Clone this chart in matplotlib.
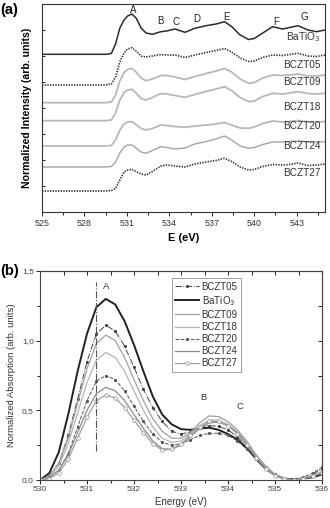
import matplotlib
matplotlib.use('Agg')
import matplotlib.pyplot as plt
from matplotlib.ticker import MultipleLocator, FuncFormatter

plt.rcParams['font.family'] = ['Liberation Sans', 'DejaVu Sans']

# ---- panel (a): O K-edge spectra, stacked (offsets in arbitrary units)
energy_a = [525.0, 529.5, 529.9, 530.2, 530.5, 530.8, 531.05, 531.35, 531.65, 532.0,
            532.35, 532.8, 533.4, 533.8, 534.4, 535.1, 535.8, 536.6, 537.3, 537.9,
            538.4, 539.0, 539.6, 540.0, 540.6, 541.3, 542.0, 542.5, 543.1, 543.8,
            544.4, 545.0]
a_batio3 = [157.7, 157.7, 158.5, 168, 184, 192, 196, 198, 194, 184,
            179, 177.7, 180.3, 181, 183, 179.7, 183.7, 186.3, 188, 190.3,
            185.5, 177, 172.5, 173.5, 179, 185.3, 183, 184.5, 186.3, 182,
            180.3, 182]
a_bczt05 = [127, 127, 128, 135, 150, 159, 163, 164.3, 161, 156,
            155, 156, 157.5, 157, 157, 154.5, 157, 159.5, 161.5, 163.5,
            160, 154, 150.5, 151, 154.5, 157, 156.5, 157.5, 158.7, 156,
            155.5, 157]
a_bczt09 = [109.3, 109.3, 110, 117, 131, 139.5, 142.5, 143.7, 140, 134,
            131.3, 133, 136.5, 136.5, 135, 132.5, 135.5, 138.5, 141, 143.5,
            140, 133, 128.7, 129.5, 134, 137, 136.5, 137, 138, 136,
            136, 137]
a_bczt18 = [91.3, 91.3, 92, 99, 112, 119.5, 122, 122.7, 119, 113.5,
            112, 114.5, 118.5, 118, 116.5, 114.7, 117.5, 120.5, 123, 125.3,
            121.5, 114.5, 110.3, 111, 115.5, 118.7, 118, 119, 120.3, 118.5,
            118, 118.7]
a_bczt20 = [66, 66, 66.5, 72, 82, 88, 90, 90.3, 87.5, 83.5,
            82, 83.5, 87, 86.5, 85.5, 84.7, 86, 87, 88, 89.5,
            87, 84, 83.7, 85, 88.5, 91, 90, 90.5, 91.5, 90,
            90, 90.5]
a_bczt24 = [45, 45, 45.5, 50, 59, 65, 67, 67, 64, 60,
            58.7, 61.5, 65.3, 64.5, 63, 64, 68, 70.5, 73, 76,
            72, 66, 63.7, 64.5, 67.5, 70, 70, 70.5, 71, 70,
            70, 70.3]
a_bczt27 = [21, 21, 21.5, 23.5, 32, 40, 42, 42.7, 40.5, 38,
            37, 40.5, 46, 47, 46, 45, 48, 50, 51.5, 53.7,
            50.5, 45, 42, 42.5, 45.5, 47.5, 47, 47.5, 49, 46.5,
            47, 48]

peak_names = ['A', 'B', 'C', 'D', 'E', 'F', 'G']
peak_x = [531.45, 533.37, 534.46, 535.93, 538.06, 541.52, 543.52]
peak_y = [202, 191.3, 190.3, 192.7, 194.7, 190.3, 194.7]

label_names = ['BaTiO$_3$', 'BCZT05', 'BCZT09', 'BCZT18', 'BCZT20', 'BCZT24', 'BCZT27']
label_y = [175.3, 147, 130.3, 104.7, 86, 66, 38.7]

# ---- panel (b): normalized absorption, first two peaks
energy_b = [530.0, 530.2, 530.4, 530.6, 530.8, 531.0, 531.2, 531.4, 531.6, 531.8,
            532.0, 532.2, 532.4, 532.6, 532.8, 533.0, 533.2, 533.4, 533.6, 533.8,
            534.0, 534.2, 534.4, 534.6, 534.8, 535.0, 535.2, 535.4, 535.6, 535.8,
            536.0]
b_bczt05 = [0.0, 0.03, 0.12, 0.32, 0.58, 0.85, 1.05, 1.11, 1.07, 0.96,
            0.81, 0.65, 0.52, 0.42, 0.35, 0.33, 0.345, 0.375, 0.39, 0.385,
            0.36, 0.31, 0.24, 0.16, 0.09, 0.04, 0.01, 0.0, 0.01, 0.04,
            0.08]
b_batio3 = [0.0, 0.05, 0.20, 0.47, 0.78, 1.05, 1.24, 1.30, 1.26, 1.14,
            0.97, 0.78, 0.60, 0.47, 0.40, 0.365, 0.36, 0.37, 0.375, 0.36,
            0.33, 0.29, 0.23, 0.15, 0.08, 0.035, 0.01, 0.005, 0.01, 0.02,
            0.04]
b_bczt09 = [0.0, 0.03, 0.12, 0.30, 0.55, 0.80, 0.98, 1.04, 1.00, 0.88,
            0.72, 0.57, 0.44, 0.35, 0.30, 0.30, 0.34, 0.41, 0.46, 0.455,
            0.42, 0.36, 0.28, 0.18, 0.10, 0.04, 0.01, 0.0, 0.01, 0.03,
            0.06]
b_bczt18 = [0.0, 0.025, 0.10, 0.26, 0.48, 0.70, 0.86, 0.915, 0.88, 0.78,
            0.64, 0.50, 0.38, 0.30, 0.27, 0.28, 0.33, 0.39, 0.43, 0.43,
            0.40, 0.345, 0.27, 0.18, 0.10, 0.04, 0.01, 0.0, 0.01, 0.03,
            0.05]
b_bczt20 = [0.0, 0.02, 0.07, 0.19, 0.38, 0.57, 0.71, 0.75, 0.72, 0.64,
            0.53, 0.42, 0.33, 0.27, 0.25, 0.26, 0.29, 0.32, 0.335, 0.335,
            0.32, 0.28, 0.22, 0.15, 0.08, 0.03, 0.005, 0.0, 0.02, 0.05,
            0.09]
b_bczt24 = [0.0, 0.02, 0.07, 0.18, 0.34, 0.50, 0.62, 0.665, 0.64, 0.57,
            0.47, 0.37, 0.28, 0.225, 0.22, 0.25, 0.31, 0.37, 0.41, 0.415,
            0.39, 0.34, 0.26, 0.17, 0.09, 0.035, 0.01, 0.0, 0.01, 0.03,
            0.05]
b_bczt27 = [0.0, 0.01, 0.05, 0.15, 0.30, 0.45, 0.57, 0.61, 0.59, 0.52,
            0.43, 0.34, 0.26, 0.215, 0.22, 0.26, 0.32, 0.38, 0.42, 0.42,
            0.39, 0.33, 0.25, 0.16, 0.08, 0.03, 0.005, 0.0, 0.01, 0.03,
            0.05]

fig = plt.figure(figsize=(3.3, 5.08), dpi=100)

# ================= (a)
ax = fig.add_axes([42 / 330, 1 - 212 / 508, 283 / 330, 208 / 508])
dark = '#2b2b2b'
light = '#b8b8b8'
ax.plot(energy_a, a_batio3, color=dark, lw=1.1)
ax.plot(energy_a, a_bczt05, color=dark, lw=1.2, ls=(0, (0.8, 0.8)))
ax.plot(energy_a, a_bczt09, color=light, lw=1.3)
ax.plot(energy_a, a_bczt18, color=light, lw=1.3)
ax.plot(energy_a, a_bczt20, color=light, lw=1.3)
ax.plot(energy_a, a_bczt24, color='#a4a4a4', lw=1.0)
ax.plot(energy_a, a_bczt27, color=dark, lw=1.2, ls=(0, (0.8, 0.8)))

for n, x, y in zip(peak_names, peak_x, peak_y):
    ax.text(x, y, n, fontsize=7, ha='center', va='center', color='#222222')
for n, y in zip(label_names, label_y):
    ax.text(544.7, y, n, fontsize=7.2, ha='right', va='center', color='#333333')

ax.set_xlim(525, 545)
ax.set_ylim(0, 208)
ax.xaxis.set_major_locator(MultipleLocator(3))
ax.xaxis.set_minor_locator(MultipleLocator(1.5))
ax.yaxis.set_major_locator(MultipleLocator(26))
ax.set_yticklabels([])
ax.tick_params(axis='x', which='both', direction='out', labelsize=6.4,
               labelcolor='#333333', pad=2)
ax.tick_params(axis='x', which='major', length=3, width=0.6)
ax.tick_params(axis='x', which='minor', length=2, width=0.6)
ax.tick_params(axis='y', which='major', direction='in', length=2.5, width=0.6)
for s in ax.spines.values():
    s.set_linewidth(0.8)
    s.set_color('#333333')
ax.set_xlabel('E (eV)', fontsize=8, fontweight='bold', labelpad=4)
ax.set_ylabel('Normalized Intensity (arb. units)', fontsize=7.6,
              fontweight='bold', labelpad=4)
fig.text(0.0, 1 - 10 / 508, '(a)', fontsize=10.5, fontweight='bold', va='center')

# ================= (b)
bx = fig.add_axes([40 / 330, 1 - 480 / 508, 282 / 330, 209 / 508])
gray = '#a0a0a0'
bx.plot(energy_b, b_bczt05, color='#444444', lw=0.7, ls='-.', marker='.',
        ms=2.5, label='BCZT05')
bx.plot(energy_b, b_batio3, color='#222222', lw=1.4, label='BaTiO$_3$')
bx.plot(energy_b, b_bczt09, color=gray, lw=0.9, label='BCZT09')
bx.plot(energy_b, b_bczt18, color='#b4b4b4', lw=0.9, label='BCZT18')
bx.plot(energy_b, b_bczt20, color='#555555', lw=0.7, ls='--', marker='.',
        ms=2.5, label='BCZT20')
bx.plot(energy_b, b_bczt24, color='#8c8c8c', lw=0.9, label='BCZT24')
bx.plot(energy_b, b_bczt27, color=gray, lw=0.9, marker='o', ms=2.6,
        mfc='white', mec=gray, mew=0.6, label='BCZT27')

bx.vlines(531.2, 0.21, 1.42, color='#555555', lw=0.8, ls='-.')
bx.text(531.4, 1.39, 'A', fontsize=6.8, ha='center', va='center', color='#333333')
bx.text(533.47, 0.59, 'B', fontsize=6.8, ha='center', va='center', color='#333333')
bx.text(534.26, 0.53, 'C', fontsize=6.8, ha='center', va='center', color='#333333')

bx.set_xlim(530, 536)
bx.set_ylim(0, 1.5)
bx.xaxis.set_major_locator(MultipleLocator(1))
bx.xaxis.set_minor_locator(MultipleLocator(0.5))
bx.yaxis.set_major_locator(MultipleLocator(0.5))
bx.yaxis.set_minor_locator(MultipleLocator(0.25))
bx.xaxis.set_major_formatter(FuncFormatter(lambda v, p: '%d' % v))
bx.yaxis.set_major_formatter(FuncFormatter(lambda v, p: ('%.1f' % v).replace('.', ',')))
bx.tick_params(which='both', direction='out', labelsize=6, labelcolor='#444444',
               width=0.6, pad=1.5)
bx.tick_params(which='major', length=3)
bx.tick_params(which='minor', length=2)
top = bx.secondary_xaxis('top')
top.xaxis.set_major_locator(MultipleLocator(0.5))
top.tick_params(direction='in', length=3, width=0.6, labeltop=False)
right = bx.secondary_yaxis('right')
right.yaxis.set_major_locator(MultipleLocator(0.25))
right.tick_params(direction='in', length=3, width=0.6, labelright=False)
for a in (bx, top, right):
    for s in a.spines.values():
        s.set_linewidth(0.8)
        s.set_color('#444444')
bx.set_xlabel('Energy (eV)', fontsize=7, color='#333333', labelpad=3)
bx.set_ylabel('Normalized Absorption (arb. units)', fontsize=6.8,
              color='#333333', labelpad=4)

leg = bx.legend(loc='upper left', bbox_to_anchor=(0.468, 0.965), fontsize=7,
                frameon=True, fancybox=False, edgecolor='#888888',
                handlelength=2.4, handletextpad=0.3, labelspacing=0.22,
                borderpad=0.35, borderaxespad=0)
leg.get_frame().set_linewidth(0.7)
for t in leg.get_texts():
    t.set_color('#333333')

fig.text(0.0, 1 - 271 / 508, '(b)', fontsize=10.5, fontweight='bold', va='center')

fig.savefig('out.png', dpi=100)
